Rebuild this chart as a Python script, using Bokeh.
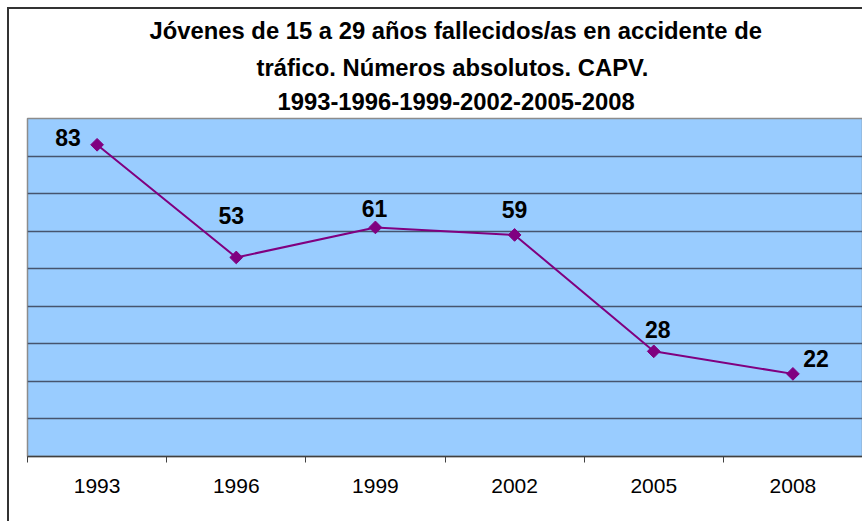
import math
from bokeh.plotting import figure
from bokeh.models import (FixedTicker, Range1d, Title, ColumnDataSource)
from bokeh.core.properties import value
from bokeh.embed import file_html
from bokeh.resources import INLINE

# ---- data ----
years = ["1993", "1996", "1999", "2002", "2005", "2008"]
deaths = [83, 53, 61, 59, 28, 22]
y_ticks = [10, 20, 30, 40, 50, 60, 70, 80]
title_lines = [
    "Jóvenes de 15 a 29 años fallecidos/as en accidente de",
    "tráfico. Números absolutos. CAPV.",
    "1993-1996-1999-2002-2005-2008",
]

# layout-only placement values (screen px)
label_dx = [-29, -5, -1, 0, 4, 23]
label_dy = [-7, -42, -19, -25, -22, -15]
title_offsets = [122, 229, 250]   # left offset of each title line
title_standoffs = [11, 4, 17]

FONT = "Liberation Sans"

n = len(years)
xs = [i + 0.5 for i in range(n)]
edges = [float(i) for i in range(n + 1)]

src = ColumnDataSource(dict(x=xs, y=deaths, lab=[str(v) for v in deaths],
                            dx=label_dx, dy=label_dy))

p = figure(width=855, height=514, output_backend="svg", toolbar_location=None,
           x_range=Range1d(0, n), y_range=Range1d(0, 90),
           min_border_left=18, min_border_right=2, min_border_bottom=67,
           min_border_top=50)
p.styles = {"border-top": "2px solid #333333", "border-left": "2px solid #333333",
            "margin-left": "7px", "margin-top": "7px"}

p.background_fill_color = "#99CCFF"
p.border_fill_color = "white"
p.outline_line_color = "#8c8c8c"
p.outline_line_width = 1.5

# title (three lines, top line added last)
for line, off, so in reversed(list(zip(title_lines, title_offsets, title_standoffs))):
    t = Title(text=line, align="left", text_font=FONT, text_font_size="23.8px",
              text_font_style="bold", text_color="black", offset=off,
              standoff=so)
    p.add_layout(t, "above")

# axes
p.yaxis.visible = False
p.ygrid.ticker = FixedTicker(ticks=y_ticks)
p.ygrid.grid_line_color = "#46546e"
p.ygrid.grid_line_width = 1.5
p.xgrid.visible = False

ax = p.xaxis[0]
ax.ticker = FixedTicker(ticks=xs, minor_ticks=edges)
ax.major_label_overrides = {x: y for x, y in zip(xs, years)}
ax.major_tick_in = 0
ax.major_tick_out = 0
ax.minor_tick_in = 0
ax.minor_tick_out = 6
ax.minor_tick_line_color = "#404040"
ax.axis_line_color = "#404040"
ax.axis_line_width = 1.5
ax.major_label_text_font = FONT
ax.major_label_text_font_size = "21px"
ax.major_label_text_color = "black"
ax.major_label_standoff = 16

# series
p.line("x", "y", source=src, line_color="#800080", line_width=2)
p.scatter("x", "y", source=src, marker="square", size=9, angle=math.pi / 4,
          fill_color="#800080", line_color="#800080")
p.text("x", "y", text="lab", source=src, x_offset="dx", y_offset="dy",
       text_font=value(FONT), text_font_size="23px", text_font_style="bold",
       text_color="black", text_align="center", text_baseline="middle")

open("out.html", "w").write(file_html(p, INLINE))
